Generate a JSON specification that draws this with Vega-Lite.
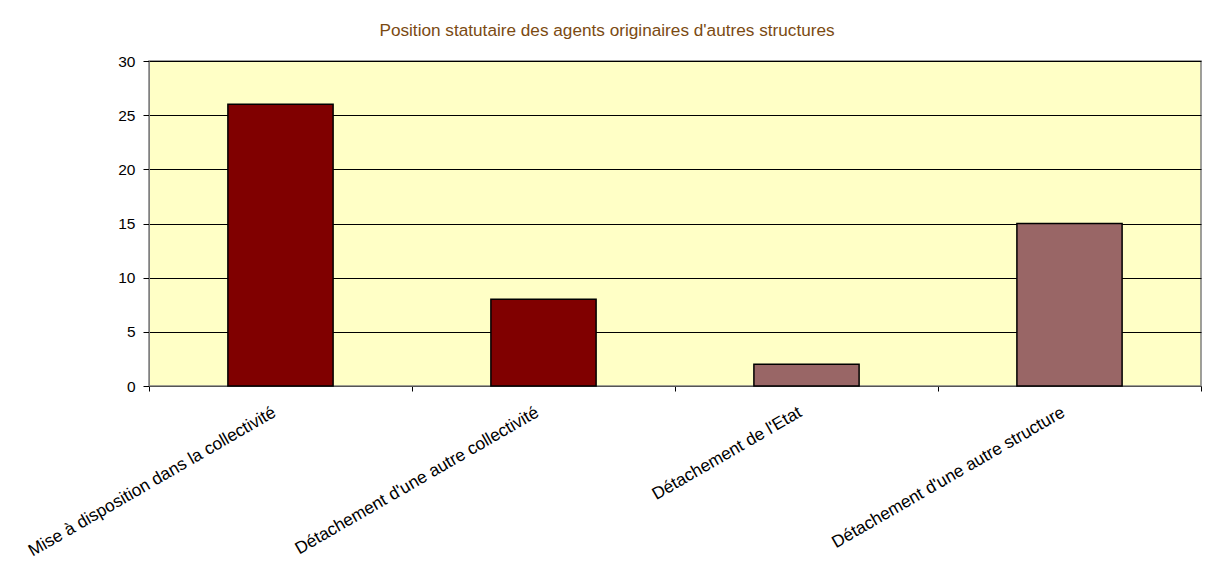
{
  "$schema": "https://vega.github.io/schema/vega-lite/v6.json",
  "autosize": {"type": "none"},
  "width": 1052,
  "height": 325,
  "padding": {"left": 149, "top": 61, "right": 8, "bottom": 186},
  "background": "#ffffff",
  "title": {
    "text": "Position statutaire des agents originaires d'autres structures",
    "color": "#7b4a12",
    "font": "Liberation Sans",
    "fontSize": 17.2,
    "fontWeight": "normal",
    "anchor": "middle",
    "dx": -68,
    "offset": 15
  },
  "data": {
    "values": [
      {"position": "Mise à disposition dans la collectivité", "agents": 26, "serie": "A"},
      {"position": "Détachement d'une autre collectivité", "agents": 8, "serie": "A"},
      {"position": "Détachement de l'Etat", "agents": 2, "serie": "B"},
      {"position": "Détachement d'une autre structure", "agents": 15, "serie": "B"}
    ]
  },
  "mark": {"type": "bar", "stroke": "#000000", "strokeWidth": 1.5, "width": {"band": 0.4}},
  "encoding": {
    "x": {
      "field": "position",
      "type": "nominal",
      "sort": null,
      "title": null,
      "scale": {"paddingInner": 0, "paddingOuter": 0},
      "axis": {
        "labelAngle": -30,
        "labelAlign": "right",
        "labelBaseline": "top",
        "labelFont": "Liberation Sans",
        "labelFontSize": 17.3,
        "labelColor": "#000000",
        "labelPadding": 12,
        "labelOffset": -11,
        "labelLimit": 400,
        "tickBand": "extent",
        "tickSize": 5,
        "tickColor": "#000000",
        "domainColor": "#555555",
        "grid": false
      }
    },
    "y": {
      "field": "agents",
      "type": "quantitative",
      "title": null,
      "scale": {"domain": [0, 30], "nice": false},
      "axis": {
        "values": [0, 5, 10, 15, 20, 25, 30],
        "labelFont": "Liberation Sans",
        "labelFontSize": 15.5,
        "labelColor": "#000000",
        "labelPadding": 8,
        "tickSize": 6,
        "tickColor": "#000000",
        "domainColor": "#808080",
        "gridColor": "#000000",
        "gridOpacity": 1,
        "gridWidth": 1
      }
    },
    "color": {
      "field": "serie",
      "type": "nominal",
      "scale": {"domain": ["A", "B"], "range": ["#800000", "#996666"]},
      "legend": null
    }
  },
  "config": {
    "view": {"fill": "#ffffc6", "stroke": "#808080", "strokeWidth": 1.5}
  }
}
